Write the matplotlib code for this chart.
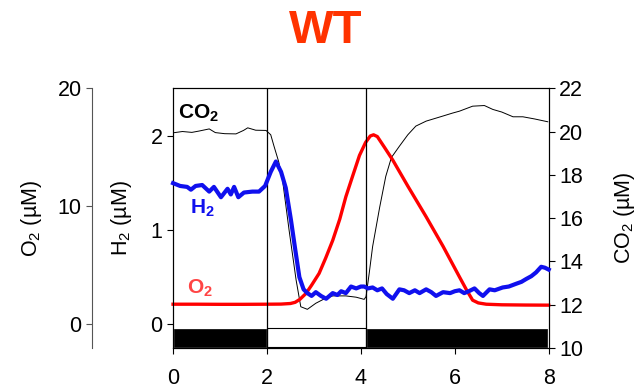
import numpy as np
import matplotlib
matplotlib.use("Agg")
import matplotlib.pyplot as plt

plt.rcParams['font.family'] = ['Liberation Sans', 'DejaVu Sans']
plt.rcParams['mathtext.fontset'] = 'custom'
plt.rcParams['mathtext.rm'] = 'Liberation Sans'
plt.rcParams['mathtext.bf'] = 'Liberation Sans:bold'

# time (h)
h2_t = [0, 0.15, 0.3, 0.38, 0.48, 0.62, 0.77, 0.87, 1.02, 1.16, 1.23, 1.30, 1.39, 1.51, 1.69,
        1.83, 1.96, 2.08, 2.19, 2.30, 2.40, 2.51, 2.60, 2.69, 2.78, 2.86, 2.95, 3.04, 3.15, 3.26,
        3.40, 3.50, 3.58, 3.68, 3.79, 3.90, 4.00, 4.07, 4.15, 4.25, 4.35, 4.45, 4.55, 4.68, 4.82,
        4.92, 5.03, 5.15, 5.25, 5.39, 5.50, 5.60, 5.75, 5.90, 6.00, 6.10, 6.20, 6.30, 6.42, 6.52,
        6.60, 6.74, 6.85, 7.02, 7.15, 7.31, 7.42, 7.52, 7.63, 7.73, 7.84, 7.92, 8.0]
h2 = [1.50, 1.47, 1.46, 1.43, 1.47, 1.48, 1.41, 1.46, 1.35, 1.44, 1.38, 1.46, 1.35, 1.40, 1.41,
      1.41, 1.47, 1.62, 1.73, 1.62, 1.45, 1.11, 0.80, 0.50, 0.37, 0.33, 0.30, 0.34, 0.30, 0.27,
      0.33, 0.31, 0.35, 0.33, 0.40, 0.38, 0.40, 0.40, 0.38, 0.39, 0.36, 0.38, 0.32, 0.27, 0.37,
      0.36, 0.33, 0.36, 0.33, 0.37, 0.34, 0.30, 0.34, 0.33, 0.35, 0.36, 0.33, 0.35, 0.38, 0.33,
      0.30, 0.37, 0.36, 0.39, 0.40, 0.43, 0.45, 0.48, 0.51, 0.55, 0.61, 0.60, 0.58]

o2_t = [0, 0.5, 1.0, 1.5, 2.0, 2.3, 2.5, 2.6, 2.7, 2.83, 2.95, 3.11, 3.25, 3.40, 3.55, 3.68,
        3.82, 3.97, 4.10, 4.20, 4.27, 4.35, 4.50, 4.68, 5.0, 5.39, 5.75, 6.10, 6.25, 6.38, 6.50,
        6.67, 7.0, 7.5, 8.0]
o2 = [1.69, 1.69, 1.68, 1.68, 1.69, 1.70, 1.75, 1.85, 2.1, 2.6, 3.3, 4.3, 5.6, 7.1, 8.9, 10.8,
      12.5, 14.3, 15.4, 15.95, 16.05, 15.9, 15.0, 13.9, 11.7, 9.1, 6.6, 4.0, 2.9, 2.03, 1.8,
      1.69, 1.64, 1.62, 1.61]

co2_t = [0, 0.2, 0.4, 0.55, 0.77, 0.9, 1.1, 1.34, 1.5, 1.59, 1.76, 1.98, 2.08, 2.15, 2.25, 2.33,
         2.47, 2.62, 2.72, 2.86, 3.04, 3.20, 3.40, 3.68, 3.90, 4.07, 4.11, 4.18, 4.25, 4.40, 4.53,
         4.65, 4.82, 5.00, 5.17, 5.39, 5.74, 5.95, 6.10, 6.38, 6.63, 6.81, 7.00, 7.24, 7.45, 7.70,
         7.98]
co2 = [19.94, 20.00, 19.96, 20.02, 20.12, 19.95, 19.90, 19.89, 20.05, 20.17, 20.06, 20.05, 19.85,
       19.32, 18.6, 17.78, 15.46, 13.15, 11.91, 11.79, 12.07, 12.25, 12.41, 12.41, 12.35, 12.25,
       12.38, 13.5, 14.69, 16.5, 17.93, 18.8, 19.32, 19.85, 20.25, 20.48, 20.71, 20.85, 20.94,
       21.17, 21.2, 21.02, 20.9, 20.68, 20.68, 20.58, 20.45]

# light / dark periods
light_on, light_off = 2.0, 4.1

fs = 15.5

fig = plt.figure(figsize=(6.41, 3.92), dpi=100)
ax = fig.add_axes([0.270, 0.112, 0.586, 0.663])
ax_co2 = ax.twinx()
ax_o2 = ax.twinx()

# H2 axis
ax.set_xlim(0, 8)
ax.set_ylim(-0.255, 2.51)
ax.set_yticks([0, 1, 2])
ax.set_xticks([0, 2, 4, 6, 8])
ax.tick_params(labelsize=fs, direction='out', length=4, width=0.8)
ax.tick_params(axis='x', pad=10)
ax.set_ylabel('H$_2$ (µM)', fontsize=fs)
ax.yaxis.set_label_coords(-0.104, 0.5)

# CO2 axis
ax_co2.set_ylim(10, 22)
ax_co2.set_yticks([10, 12, 14, 16, 18, 20, 22])
ax_co2.tick_params(labelsize=fs, direction='out', length=4, width=0.8)
ax_co2.set_ylabel('CO$_2$ (µM)', fontsize=fs)
ax_co2.yaxis.set_label_coords(1.168, 0.5)

# O2 axis, offset to the left
ax_o2.set_ylim(-2.03, 20)
ax_o2.set_yticks([0, 10, 20])
ax_o2.yaxis.set_ticks_position('left')
ax_o2.yaxis.set_label_position('left')
ax_o2.spines['left'].set_position(('axes', -0.2154))
ax_o2.spines['left'].set_color('#555555')
for s in ['right', 'top', 'bottom']:
    ax_o2.spines[s].set_visible(False)
ax_o2.tick_params(labelsize=fs, direction='out', length=4, width=0.8, color='#555555')
ax_o2.set_ylabel('O$_2$ (µM)', fontsize=fs)
ax_o2.yaxis.set_label_coords(-0.343, 0.5)

# light/dark bar
ax.broken_barh([(light_on, light_off - light_on)], (-0.245, 0.2),
               facecolors='white', edgecolors='black', linewidth=0.8, zorder=3)
ax.broken_barh([(0.03, light_on - 0.06), (light_off + 0.03, 8 - light_off - 0.06)],
               (-0.24, 0.19), facecolors='black', edgecolors='black', linewidth=0.5, zorder=3)

for xv in [light_on, light_off]:
    ax.axvline(xv, color='black', lw=0.9, zorder=4)

ax_co2.plot(co2_t, co2, color='black', lw=0.7)
ax_o2.plot(o2_t, o2, color='#ff0000', lw=2.4, clip_on=False)
ax.plot(h2_t, h2, color='#1010ee', lw=3.0, zorder=5, clip_on=False)
ax.set_zorder(ax_o2.get_zorder() + 1)
ax.patch.set_visible(False)

ax.text(0.1, 2.19, 'CO$_\\mathbf{2}$', fontsize=15, fontweight='bold', color='black')
ax.text(0.37, 1.18, 'H$_\\mathbf{2}$', fontsize=15, fontweight='bold', color='#1010ee')
ax.text(0.3, 0.33, 'O$_\\mathbf{2}$', fontsize=15, fontweight='bold', color='#ff4444')

fig.text(0.508, 0.921, 'WT', fontsize=34, fontweight='bold', color='#ff3300',
         ha='center', va='center')

fig.savefig('out.png', dpi=100)
